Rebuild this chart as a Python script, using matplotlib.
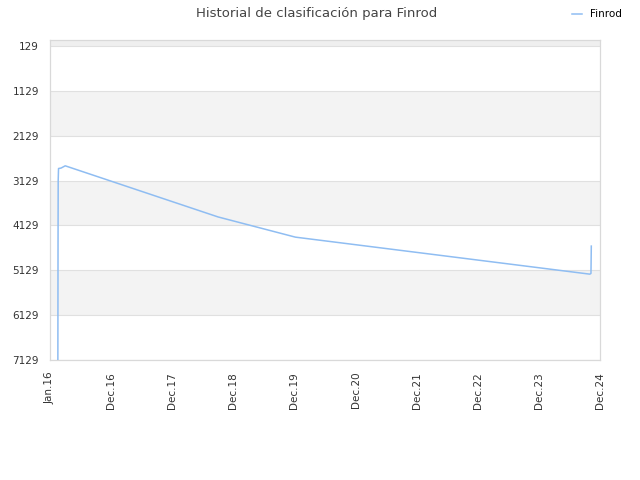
import matplotlib
matplotlib.use("Agg")
import matplotlib.pyplot as plt
import matplotlib.dates as mdates
import numpy as np
from datetime import datetime

# ranking history
fechas = ["2016-01-17", "2016-01-18", "2016-01-19", "2016-01-21", "2016-02-05",
          "2016-03-01", "2018-09-01", "2019-12-07", "2024-10-01", "2024-10-08",
          "2024-10-10"]
puestos = [7129, 4600, 3129, 2860, 2850,
           2800, 3940, 4390, 5215, 5200,
           4590]

tick_fechas = ["2015-12-01", "2016-12-01", "2017-12-01", "2018-12-01", "2019-12-01",
               "2020-12-01", "2021-12-01", "2022-12-01", "2023-12-01", "2024-12-01"]
tick_labels = ["Jan.16", "Dec.16", "Dec.17", "Dec.18", "Dec.19",
               "Dec.20", "Dec.21", "Dec.22", "Dec.23", "Dec.24"]
y_ticks = [129, 1129, 2129, 3129, 4129, 5129, 6129, 7129]

x = [datetime.strptime(d, "%Y-%m-%d") for d in fechas]
xt = [datetime.strptime(d, "%Y-%m-%d") for d in tick_fechas]

fig = plt.figure(figsize=(6.4, 4.8), dpi=100)
ax = fig.add_axes([50 / 640, 120 / 480, 550 / 640, 320 / 480])

# alternating bands
ax.axhspan(-5, y_ticks[0], color="#efefef", zorder=0, lw=0)
for i in range(1, len(y_ticks) - 1, 2):
    ax.axhspan(y_ticks[i], y_ticks[i + 1], color="#f3f3f3", zorder=0, lw=0)
for yv in y_ticks:
    ax.axhline(yv, color="#e0e0e0", lw=0.8, zorder=1)

ax.plot(x, puestos, color="#8fbdf2", lw=1.1, label="Finrod", zorder=3)

ax.set_ylim(7129, -5)
ax.set_xlim(xt[0], xt[-1])
ax.set_yticks(y_ticks)
ax.set_yticklabels([str(v) for v in y_ticks])
ax.set_xticks(mdates.date2num(xt))
ax.set_xticklabels(tick_labels, rotation=90)
ax.tick_params(axis="both", length=0, labelsize=7.5, colors="#333333")
ax.tick_params(axis="y", pad=8)
ax.tick_params(axis="x", pad=8.5)

for s in ax.spines.values():
    s.set_color("#d9d9d9")
    s.set_linewidth(0.9)

fig.suptitle("Historial de clasificación para Finrod", x=0.494, y=0.985,
             fontsize=9.5, color="#444444")
leg = fig.legend(loc="upper right", bbox_to_anchor=(0.987, 1.0), frameon=False,
                 fontsize=7.5, handlelength=1.0, handletextpad=0.8)

fig.savefig("out.png", dpi=100)
